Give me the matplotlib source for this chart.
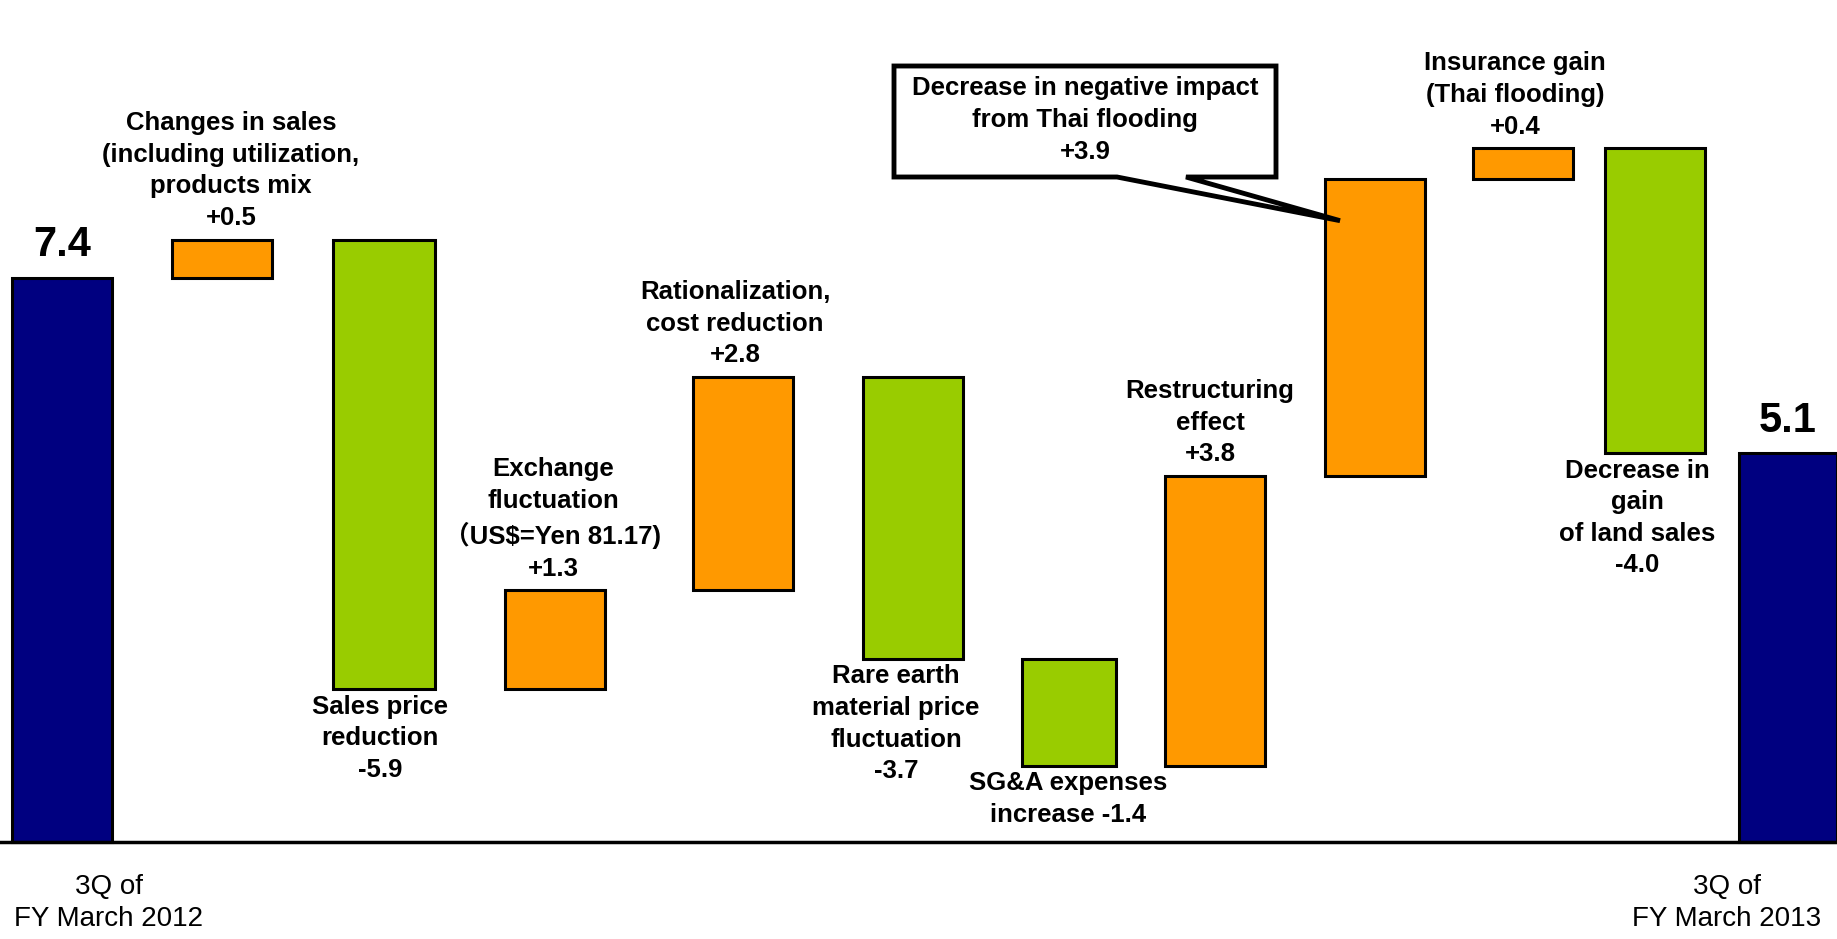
import matplotlib
matplotlib.use("Agg")
import matplotlib.pyplot as plt
from matplotlib.patches import Polygon

# ---- data -------------------------------------------------------------
start_value = 7.4
end_value = 5.1
period_labels = ["3Q of\nFY March 2012", "3Q of\nFY March 2013"]

step_names = [
    "Changes in sales\n(including utilization,\nproducts mix",
    "Sales price\nreduction",
    "Exchange\nfluctuation\n\uff08US$=Yen 81.17)",
    "Rationalization,\ncost reduction",
    "Rare earth\nmaterial price\nfluctuation",
    "SG&A expenses\nincrease",
    "Restructuring\neffect",
    "Decrease in negative impact\nfrom Thai flooding",
    "Insurance gain\n(Thai flooding)",
    "Decrease in\ngain\nof land sales",
]
step_values = [0.5, -5.9, 1.3, 2.8, -3.7, -1.4, 3.8, 3.9, 0.4, -4.0]

# ---- layout -----------------------------------------------------------
W, H, DPI = 1837, 939, 100
baseline_px = 841.7          # pixel row of the zero line
px_per_unit = 76.2           # vertical scale

bar_centers = [62, 222, 384, 555, 743, 913, 1069, 1215, 1375, 1523, 1655, 1788]
bar_widths = [100, 100, 102, 100, 100, 100, 94, 100, 100, 100, 100, 98]
label_x = [231, 380, 553, 735, 896, 1068, 1210, None, 1515, 1637]
# the SG&A label sits in a short gap above the zero line, so its value
# shares the second line
value_sep = ["\n"] * 5 + [" "] + ["\n"] * 4
period_label_x = [109, 1727]

NAVY, ORANGE, GREEN = "#000080", "#FF9900", "#99CC00"
FONT = ["Liberation Sans", "Noto Sans CJK JP", "DejaVu Sans"]
LABEL_FS = 18.5
LABEL_LS = 1.4
BIG_FS = 30
EDGE_LW = 2.2

plt.rcParams["font.family"] = FONT

fig = plt.figure(figsize=(W / DPI, H / DPI), dpi=DPI)
ax = fig.add_axes([0, 0, 1, 1])
ax.set_xlim(0, W)
ax.set_ylim(-(H - baseline_px) / px_per_unit, baseline_px / px_per_unit)
ax.axis("off")


def py(v_px):
    """Convert a pixel row to a value on the y axis."""
    return (baseline_px - v_px) / px_per_unit


# ---- bars -------------------------------------------------------------
ax.bar(bar_centers[0], start_value, width=bar_widths[0], color=NAVY,
       edgecolor="black", linewidth=EDGE_LW, zorder=2)

running = start_value
tops, bottoms = [], []
for i, v in enumerate(step_values):
    lo = running if v >= 0 else running + v
    ax.bar(bar_centers[i + 1], abs(v), bottom=lo, width=bar_widths[i + 1],
           color=ORANGE if v >= 0 else GREEN, edgecolor="black",
           linewidth=EDGE_LW, zorder=2)
    tops.append(lo + abs(v))
    bottoms.append(lo)
    running += v

ax.bar(bar_centers[-1], end_value, width=bar_widths[-1], color=NAVY,
       edgecolor="black", linewidth=EDGE_LW, zorder=2)

ax.axhline(0, color="black", linewidth=2.5, zorder=3)

# ---- totals -----------------------------------------------------------
for x, v in ((bar_centers[0], start_value), (bar_centers[-1], end_value)):
    ax.annotate(f"{v:.1f}", (x, v), xytext=(0, 9),
                textcoords="offset points", ha="center", va="bottom",
                fontsize=BIG_FS, fontweight="bold")

# ---- step labels ------------------------------------------------------
for i, (name, v) in enumerate(zip(step_names, step_values)):
    if label_x[i] is None:
        continue
    text = f"{name}{value_sep[i]}{v:+.1f}"
    if v >= 0:
        ax.annotate(text, (label_x[i], tops[i]), xytext=(0, 7),
                    textcoords="offset points", ha="center", va="bottom",
                    fontsize=LABEL_FS, fontweight="bold",
                    linespacing=LABEL_LS, multialignment="center")
    else:
        ax.annotate(text, (label_x[i], bottoms[i]), xytext=(0, -4),
                    textcoords="offset points", ha="center", va="top",
                    fontsize=LABEL_FS, fontweight="bold",
                    linespacing=LABEL_LS, multialignment="center")

# ---- callout for the Thai flooding step -------------------------------
k = 7
box_l, box_r = 894, 1276
box_t, box_b = py(66), py(177)
tip = (1340, tops[k] - 0.55)
callout = Polygon(
    [(box_l, box_b), (1117, box_b), tip, (1186, box_b), (box_r, box_b),
     (box_r, box_t), (box_l, box_t)],
    closed=True, facecolor="white", edgecolor="black", linewidth=3.5,
    joinstyle="miter", zorder=4)
ax.add_patch(callout)
ax.text((box_l + box_r) / 2, (box_t + box_b) / 2 + 0.02,
        f"{step_names[k]}\n{step_values[k]:+.1f}", ha="center", va="center",
        fontsize=LABEL_FS, fontweight="bold", linespacing=LABEL_LS, zorder=5)

# ---- period labels ----------------------------------------------------
for x, lab in zip(period_label_x, period_labels):
    ax.text(x, py(874), lab, ha="center", va="top", fontsize=20,
            linespacing=1.3)

fig.savefig("out.png", dpi=DPI)
